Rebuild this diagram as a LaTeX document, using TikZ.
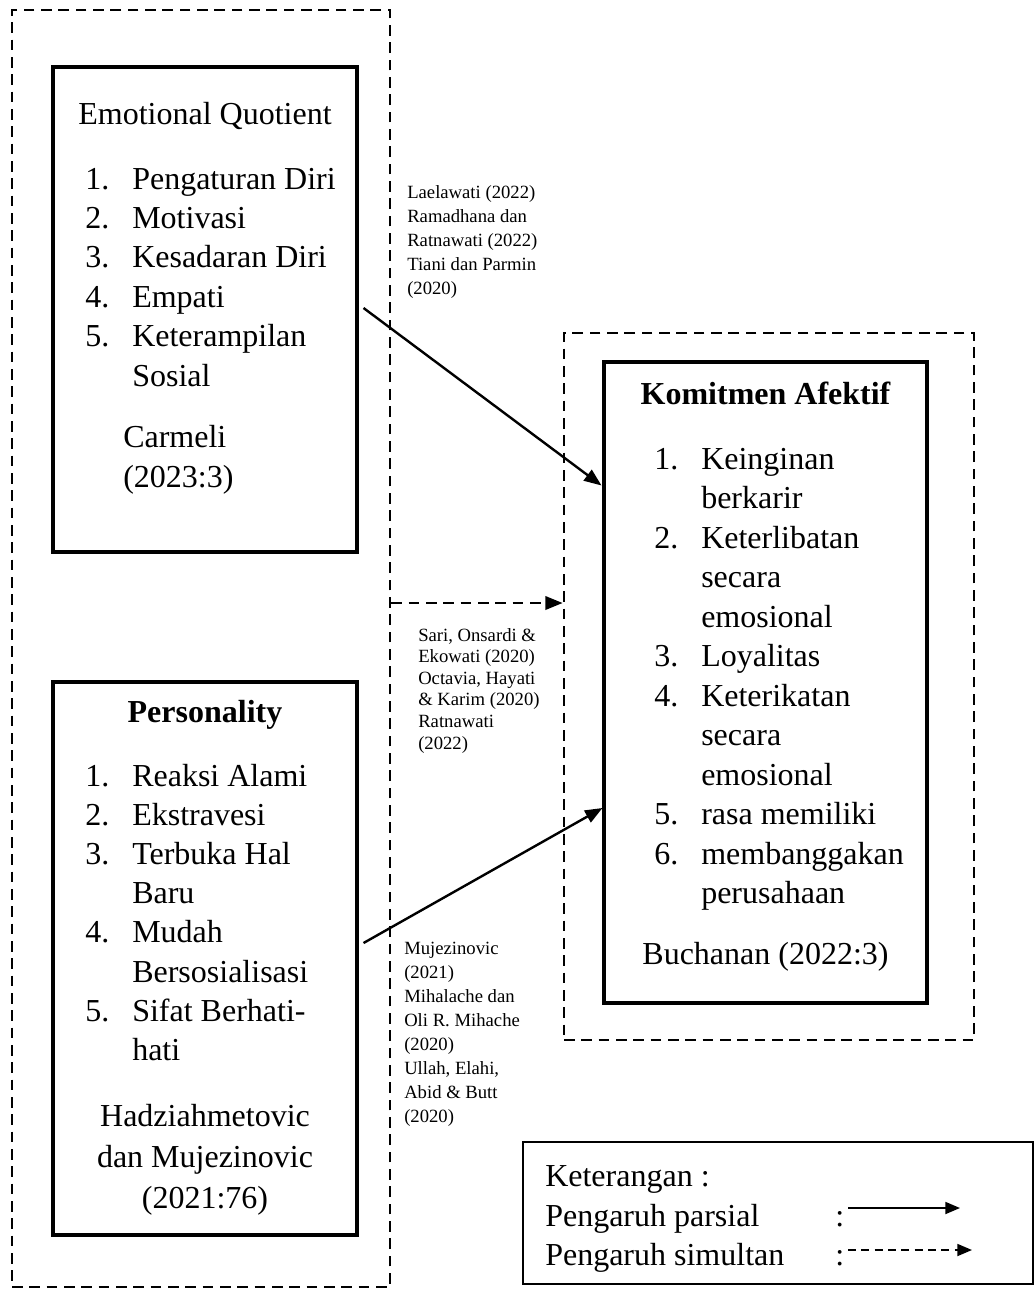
\documentclass[tikz,border=0pt]{standalone}
\usepackage{fontspec}
\setmainfont{Liberation Serif}
\usetikzlibrary{arrows.meta,calc}
\begin{document}
\begin{tikzpicture}[x=0.75pt,y=-0.75pt]
\tikzset{
  solidbox/.style={draw, line width=2.3pt, inner sep=0pt},
  dashbox/.style={draw, line width=2pt, dash pattern=on 8pt off 5pt, inner sep=0pt},
  big/.style={font=\fontsize{24}{29.6}\selectfont, inner sep=0pt, anchor=base west},
  bigmid/.style={font=\fontsize{24}{29.6}\selectfont, inner sep=0pt, anchor=base},
  bigbold/.style={font=\fontsize{24}{29.6}\selectfont\bfseries, inner sep=0pt, anchor=base},
  reftext/.style={font=\fontsize{14}{17}\selectfont, inner sep=0pt, anchor=base west},
  parrow/.style={line width=1.8pt, -{Triangle[length=13pt,width=10pt]}},
  sarrow/.style={line width=2pt, dash pattern=on 8pt off 5pt, -{Triangle[length=13pt,width=10pt]}},
  legsolid/.style={line width=1.4pt, -{Triangle[length=11pt,width=9pt]}},
  legdash/.style={line width=1.4pt, dash pattern=on 6pt off 4pt, -{Triangle[length=11pt,width=9pt]}},
}
\useasboundingbox (0,0) rectangle (1035,1289);
\fill[white] (0,0) rectangle (1035,1289);

% frames
\node[dashbox, minimum width=283.5pt, minimum height=957.75pt] (outer) at (201,648.5) {};
\node[solidbox, minimum width=228pt, minimum height=363.75pt] (eq) at (205,309.5) {};
\node[solidbox, minimum width=228pt, minimum height=414.75pt] (pers) at (205,958.5) {};
\node[dashbox, minimum width=307.5pt, minimum height=530.25pt] (rdash) at (769,686.5) {};
\node[solidbox, minimum width=242.25pt, minimum height=480.75pt] (komit) at (765.5,682.5) {};
\node[draw, line width=1.8pt, inner sep=0pt, minimum width=382.5pt, minimum height=106.5pt] (leg) at (778,1213) {};

% Emotional Quotient
\node[bigmid] (eqt) at (205,124) {Emotional Quotient};
\node[big] (eqn1) at (85,189) {1.};   \node[big] (eqi1) at (132,189) {Pengaturan Diri};
\node[big] (eqn2) at (85,228.4) {2.}; \node[big] (eqi2) at (132,228.4) {Motivasi};
\node[big] (eqn3) at (85,267.8) {3.}; \node[big] (eqi3) at (132,267.8) {Kesadaran Diri};
\node[big] (eqn4) at (85,307.2) {4.}; \node[big] (eqi4) at (132,307.2) {Empati};
\node[big] (eqn5) at (85,346.6) {5.}; \node[big] (eqi5) at (132,346.6) {Keterampilan};
\node[big] (eqi5b) at (132,386) {Sosial};
\node[big] (eqs1) at (123,447) {Carmeli};
\node[big] (eqs2) at (123,487) {(2023:3)};

% Personality
\node[bigbold] (pt) at (205,722) {Personality};
\node[big] (pn1) at (85,786) {1.};    \node[big] (pi1) at (132,786) {Reaksi Alami};
\node[big] (pn2) at (85,825.2) {2.};  \node[big] (pi2) at (132,825.2) {Ekstravesi};
\node[big] (pn3) at (85,864.4) {3.};  \node[big] (pi3) at (132,864.4) {Terbuka Hal};
\node[big] (pi3b) at (132,903.6) {Baru};
\node[big] (pn4) at (85,942.8) {4.};  \node[big] (pi4) at (132,942.8) {Mudah};
\node[big] (pi4b) at (132,982) {Bersosialisasi};
\node[big] (pn5) at (85,1021.2) {5.}; \node[big] (pi5) at (132,1021.2) {Sifat Berhati-};
\node[big] (pi5b) at (132,1060.4) {hati};
\node[bigmid] (ps1) at (205,1126) {Hadziahmetovic};
\node[bigmid] (ps2) at (205,1167) {dan Mujezinovic};
\node[bigmid] (ps3) at (205,1208) {(2021:76)};

% Komitmen Afektif
\node[bigbold] (kt) at (765.5,404) {Komitmen Afektif};
\node[big] (kn1) at (654,469) {1.};    \node[big] (ki1) at (701,469) {Keinginan};
\node[big] (ki1b) at (701,508.5) {berkarir};
\node[big] (kn2) at (654,548) {2.};    \node[big] (ki2) at (701,548) {Keterlibatan};
\node[big] (ki2b) at (701,587.5) {secara};
\node[big] (ki2c) at (701,627) {emosional};
\node[big] (kn3) at (654,666.5) {3.};  \node[big] (ki3) at (701,666.5) {Loyalitas};
\node[big] (kn4) at (654,706) {4.};    \node[big] (ki4) at (701,706) {Keterikatan};
\node[big] (ki4b) at (701,745.5) {secara};
\node[big] (ki4c) at (701,785) {emosional};
\node[big] (kn5) at (654,824.5) {5.};  \node[big] (ki5) at (701,824.5) {rasa memiliki};
\node[big] (kn6) at (654,864) {6.};    \node[big] (ki6) at (701,864) {membanggakan};
\node[big] (ki6b) at (701,903.5) {perusahaan};
\node[bigmid] (ks) at (765.5,964) {Buchanan (2022:3)};

% references
\node[reftext] (ra1) at (407,198) {Laelawati (2022)};
\node[reftext] (ra2) at (407,222) {Ramadhana dan};
\node[reftext] (ra3) at (407,246) {Ratnawati (2022)};
\node[reftext] (ra4) at (407,270) {Tiani dan Parmin};
\node[reftext] (ra5) at (407,294) {(2020)};

\node[reftext] (rb1) at (418,641) {Sari, Onsardi \&};
\node[reftext] (rb2) at (418,662.6) {Ekowati (2020)};
\node[reftext] (rb3) at (418,684.2) {Octavia, Hayati};
\node[reftext] (rb4) at (418,705.8) {\& Karim (2020)};
\node[reftext] (rb5) at (418,727.4) {Ratnawati};
\node[reftext] (rb6) at (418,749) {(2022)};

\node[reftext] (rc1) at (404,954) {Mujezinovic};
\node[reftext] (rc2) at (404,978) {(2021)};
\node[reftext] (rc3) at (404,1002) {Mihalache dan};
\node[reftext] (rc4) at (404,1026) {Oli R. Mihache};
\node[reftext] (rc5) at (404,1050) {(2020)};
\node[reftext] (rc6) at (404,1074) {Ullah, Elahi,};
\node[reftext] (rc7) at (404,1098) {Abid \& Butt};
\node[reftext] (rc8) at (404,1122) {(2020)};

% connectors
\draw[parrow] ($(eq.east)+(5,-1.5)$) -- ($(komit.north west)+(-1,125)$);
\draw[parrow] ($(pers.east)+(5,-15.5)$) -- ($(komit.west)+(0,125.5)$);
\coordinate (d1) at ($(outer.east)+(0,-45.5)$);
\draw[sarrow] (d1) -- (d1 -| rdash.west);

% legend
\node[big] (l1) at (545,1186) {Keterangan :};
\node[big] (l2) at (545,1226) {Pengaruh parsial};
\node[big] (l2c) at (835,1226) {:};
\node[big] (l3) at (545,1265) {Pengaruh simultan};
\node[big] (l3c) at (835,1265) {:};
\coordinate (la1s) at (848,1208);
\coordinate (la1e) at (960,1208);
\coordinate (la2s) at (848,1250);
\coordinate (la2e) at (972,1250);
\draw[legsolid] (la1s) -- (la1e);
\draw[legdash] (la2s) -- (la2e);
\end{tikzpicture}
\end{document}
